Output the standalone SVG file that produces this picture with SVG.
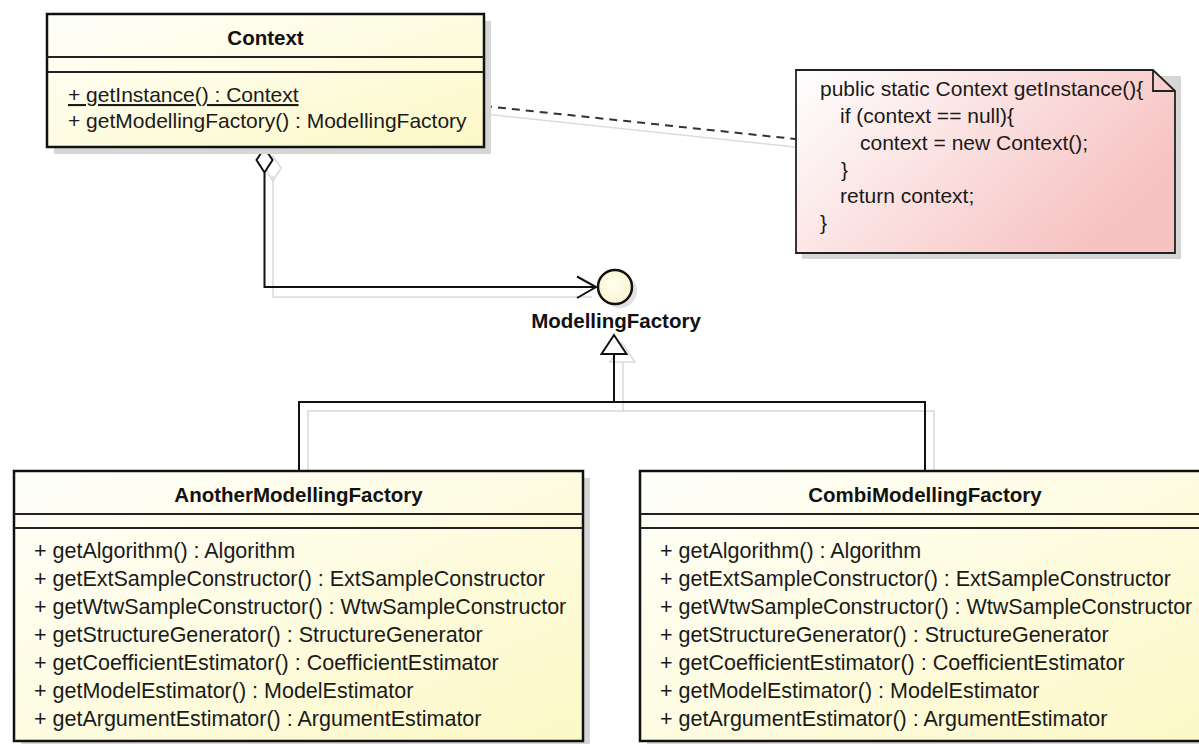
<svg xmlns="http://www.w3.org/2000/svg" width="1199" height="744" viewBox="0 0 1199 744">
  <style>
    .cls { stroke: #111; stroke-width: 2.5; }
    .div { stroke: #222; stroke-width: 2; }
    .shadow { fill: #d6d6d6; }
    .title { font-family: "Liberation Sans", Arial, sans-serif; font-size: 20.5px; font-weight: bold; fill: #111; text-anchor: middle; }
    .op { font-family: "Liberation Sans", Arial, sans-serif; font-size: 21px; fill: #1a1a1a; }
    .op-wide { font-family: "Liberation Sans", Arial, sans-serif; font-size: 21.5px; fill: #1a1a1a; }
    .code { font-family: "Liberation Sans", Arial, sans-serif; font-size: 21px; fill: #1a1a1a; }
    .edge { fill: none; stroke: #111; stroke-width: 2; }
    .edge-shadow { fill: none; stroke: #d9d9d9; stroke-width: 1.5; }
  </style>
  <defs>
    <linearGradient id="classFill" x1="0" y1="0" x2="1" y2="1">
      <stop offset="0" stop-color="#fffffb"/>
      <stop offset="1" stop-color="#fcf8c6"/>
    </linearGradient>
    <linearGradient id="noteFill" x1="0" y1="0" x2="1" y2="0.5">
      <stop offset="0" stop-color="#ffffff"/>
      <stop offset="1" stop-color="#f7c2c2"/>
    </linearGradient>
    <radialGradient id="ifaceFill" cx="0.45" cy="0.45" r="0.6">
      <stop offset="0" stop-color="#fffff2"/>
      <stop offset="1" stop-color="#f7f4cc"/>
    </radialGradient>
  </defs>

  <rect width="1199" height="744" fill="#ffffff"/>

  <!-- connectors -->
  <g id="connectors">
    <!-- aggregation Context -> ModellingFactory -->
    <polyline class="edge-shadow" points="273,176 273,297 592,297"/>
    <polygon class="edge-shadow" points="273,156 281,168 273,181 265,168"/>
    <polygon points="264.5,148 272.5,160 264.5,172.5 256.5,160" fill="#ffffff" stroke="#111" stroke-width="2"/>
    <polyline class="edge" points="264.5,172.5 264.5,287 596,287"/>
    <polyline class="edge" points="577,276.5 596,287 577,298"/>

    <!-- note anchor -->
    <line x1="485" y1="114" x2="795" y2="147" stroke="#dcdcdc" stroke-width="1.5"/>
    <line x1="484" y1="106" x2="795" y2="139" stroke="#333" stroke-width="2" stroke-dasharray="8,6"/>

    <!-- generalization -->
    <polyline class="edge-shadow" points="623,362 623,411 308,411 308,471"/>
    <polyline class="edge-shadow" points="623,411 934,411 934,471"/>
    <polygon points="622,343 635,362 610,362" fill="none" stroke="#dcdcdc" stroke-width="1.5"/>
    <polyline class="edge" points="614,354 614,402 299,402 299,471"/>
    <polyline class="edge" points="614,402 925,402 925,471"/>
    <polygon points="614,335 626.5,354 601.5,354" fill="#ffffff" stroke="#111" stroke-width="2"/>
  </g>

  <!-- Context class -->
  <g id="Context">
    <rect class="shadow" x="54" y="21" width="437" height="133"/>
    <rect class="cls" x="47" y="14" width="437" height="133" fill="url(#classFill)"/>
    <line class="div" x1="47" y1="57" x2="484" y2="57"/>
    <line class="div" x1="47" y1="72" x2="484" y2="72"/>
    <text class="title" x="265.5" y="45">Context</text>
    <text class="op" x="68" y="102" text-decoration="underline">+ getInstance() : Context</text>
    <text class="op" x="68" y="128">+ getModellingFactory() : ModellingFactory</text>
  </g>

  <!-- note with getInstance body -->
  <g id="note">
    <rect class="shadow" x="802" y="76" width="379" height="183"/>
    <path d="M796,70 H1153 L1175,91 V253 H796 Z" fill="url(#noteFill)" stroke="#222" stroke-width="1.8"/>
    <path d="M1153,70 V91 H1175" fill="none" stroke="#222" stroke-width="1.8"/>
    <text class="code" x="820" y="96">public static Context getInstance(){</text>
    <text class="code" x="840" y="123">if (context == null){</text>
    <text class="code" x="860" y="150">context = new Context();</text>
    <text class="code" x="841" y="177">}</text>
    <text class="code" x="840" y="203">return context;</text>
    <text class="code" x="820" y="230">}</text>
  </g>

  <!-- ModellingFactory interface -->
  <g id="ModellingFactory">
    <circle cx="620" cy="291" r="17" fill="#e2e2e2"/>
    <circle cx="615" cy="287" r="17" fill="url(#ifaceFill)" stroke="#111" stroke-width="2.5"/>
    <text class="title" x="616" y="328">ModellingFactory</text>
  </g>

  <!-- AnotherModellingFactory class -->
  <g id="AnotherModellingFactory">
    <rect class="shadow" x="21" y="478" width="569" height="270"/>
    <rect class="cls" x="14" y="471" width="569" height="270" fill="url(#classFill)"/>
    <line class="div" x1="14" y1="514" x2="583" y2="514"/>
    <line class="div" x1="14" y1="528" x2="583" y2="528"/>
    <text class="title" x="298.5" y="502">AnotherModellingFactory</text>
    <text class="op-wide" x="34" y="558">+ getAlgorithm() : Algorithm</text>
    <text class="op-wide" x="34" y="586">+ getExtSampleConstructor() : ExtSampleConstructor</text>
    <text class="op-wide" x="34" y="614">+ getWtwSampleConstructor() : WtwSampleConstructor</text>
    <text class="op-wide" x="34" y="642">+ getStructureGenerator() : StructureGenerator</text>
    <text class="op-wide" x="34" y="670">+ getCoefficientEstimator() : CoefficientEstimator</text>
    <text class="op-wide" x="34" y="698">+ getModelEstimator() : ModelEstimator</text>
    <text class="op-wide" x="34" y="726">+ getArgumentEstimator() : ArgumentEstimator</text>
  </g>

  <!-- CombiModellingFactory class -->
  <g id="CombiModellingFactory">
    <rect class="shadow" x="647" y="478" width="570" height="270"/>
    <rect class="cls" x="640" y="471" width="570" height="270" fill="url(#classFill)"/>
    <line class="div" x1="640" y1="514" x2="1210" y2="514"/>
    <line class="div" x1="640" y1="528" x2="1210" y2="528"/>
    <text class="title" x="925" y="502">CombiModellingFactory</text>
    <text class="op-wide" x="660" y="558">+ getAlgorithm() : Algorithm</text>
    <text class="op-wide" x="660" y="586">+ getExtSampleConstructor() : ExtSampleConstructor</text>
    <text class="op-wide" x="660" y="614">+ getWtwSampleConstructor() : WtwSampleConstructor</text>
    <text class="op-wide" x="660" y="642">+ getStructureGenerator() : StructureGenerator</text>
    <text class="op-wide" x="660" y="670">+ getCoefficientEstimator() : CoefficientEstimator</text>
    <text class="op-wide" x="660" y="698">+ getModelEstimator() : ModelEstimator</text>
    <text class="op-wide" x="660" y="726">+ getArgumentEstimator() : ArgumentEstimator</text>
  </g>
</svg>
